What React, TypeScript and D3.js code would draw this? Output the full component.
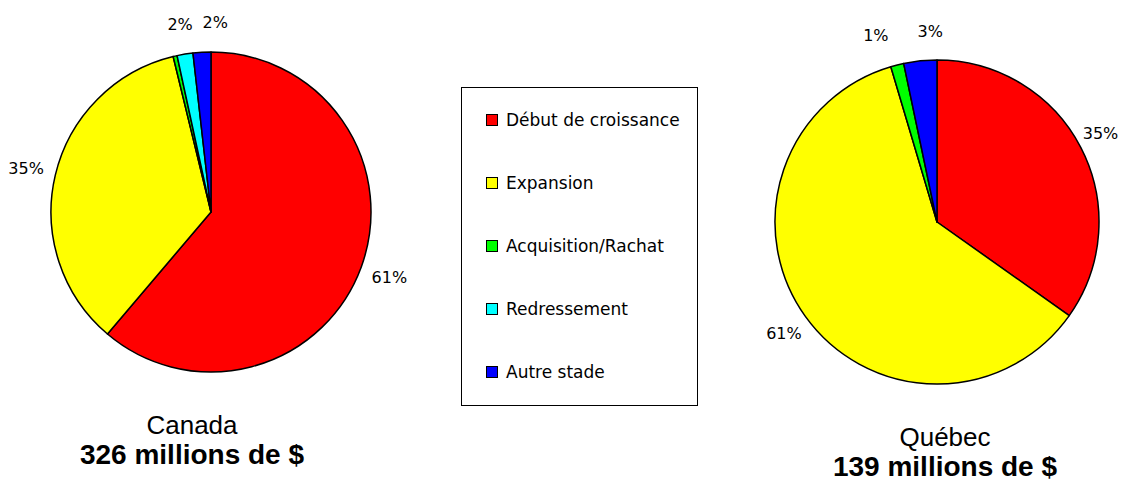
import * as d3 from "d3";

const stages = ["Début de croissance", "Expansion", "Acquisition/Rachat", "Redressement", "Autre stade"];
const stageColors = ["#ff0000", "#ffff00", "#00ff00", "#00ffff", "#0000ff"];

const canadaValues = [61.2, 35.0, 0.4, 1.6, 1.8];
const quebecValues = [34.8, 60.6, 1.3, 0, 3.3];

// small horizontal shifts Excel applied to crowded labels
const canadaNudge = [0, 0, 0, 0, 15];
const quebecNudge = [-7, 3, -14, 0, 13];

type PieProps = {
  cx: number;
  cy: number;
  r: number;
  values: number[];
  nudge: number[];
  title: string;
  amount: string;
  titleX: number;
  titleY: number;
};

function Pie(props: PieProps) {
  const { cx, cy, r, values, nudge, title, amount, titleX, titleY } = props;
  const total = d3.sum(values);
  const arcs = d3.pie<number>().sort(null).value((d) => d)(values);
  const arc = d3.arc<d3.PieArcDatum<number>>().innerRadius(0).outerRadius(r);
  const labelR = r + 30;

  return (
    <g>
      <g transform={`translate(${cx},${cy})`}>
        {arcs.map((a, i) =>
          a.value > 0 ? (
            <path key={i} d={arc(a) || ""} fill={stageColors[i]} stroke="#000" strokeWidth={1.5} strokeLinejoin="round" />
          ) : null
        )}
        {arcs.map((a, i) => {
          const pct = Math.round((a.value / total) * 100);
          if (pct === 0) return null;
          const mid = (a.startAngle + a.endAngle) / 2;
          const x = Math.sin(mid) * labelR + nudge[i];
          const y = -Math.cos(mid) * labelR;
          return (
            <text key={"l" + i} x={x} y={y} textAnchor="middle" dominantBaseline="central"
              fontFamily="DejaVu Sans" fontSize={16} fill="#000">
              {pct}%
            </text>
          );
        })}
      </g>
      <text x={titleX} y={titleY} textAnchor="middle" fontFamily="Liberation Sans, Arial" fontSize={26} fill="#000">
        {title}
      </text>
      <text x={titleX} y={titleY + 30} textAnchor="middle" fontFamily="Liberation Sans, Arial" fontSize={28}
        fontWeight="bold" fill="#000">
        {amount}
      </text>
    </g>
  );
}

export default function App() {
  const width = 1121;
  const height = 482;
  const legendY = d3.scalePoint<string>().domain(stages).range([120, 372]);

  return (
    <svg width={width} height={height} style={{ position: "absolute", left: 0, top: 0, background: "#fff" }}>
      <Pie cx={211} cy={212} r={160} values={canadaValues} nudge={canadaNudge}
        title="Canada" amount="326 millions de $" titleX={192} titleY={434} />
      <Pie cx={937} cy={222} r={162} values={quebecValues} nudge={quebecNudge}
        title="Québec" amount="139 millions de $" titleX={945} titleY={446} />

      {/* legend */}
      <rect x={461.5} y={87.5} width={236} height={318} fill="#fff" stroke="#000" strokeWidth={1} />
      {stages.map((s, i) => (
        <g key={s} transform={`translate(486,${legendY(s)})`}>
          <rect x={0.5} y={-5.5} width={11} height={11} fill={stageColors[i]} stroke="#000" strokeWidth={1} />
          <text x={20} y={0} dominantBaseline="central" fontFamily="DejaVu Sans" fontSize={17} fill="#000">
            {s}
          </text>
        </g>
      ))}
    </svg>
  );
}
